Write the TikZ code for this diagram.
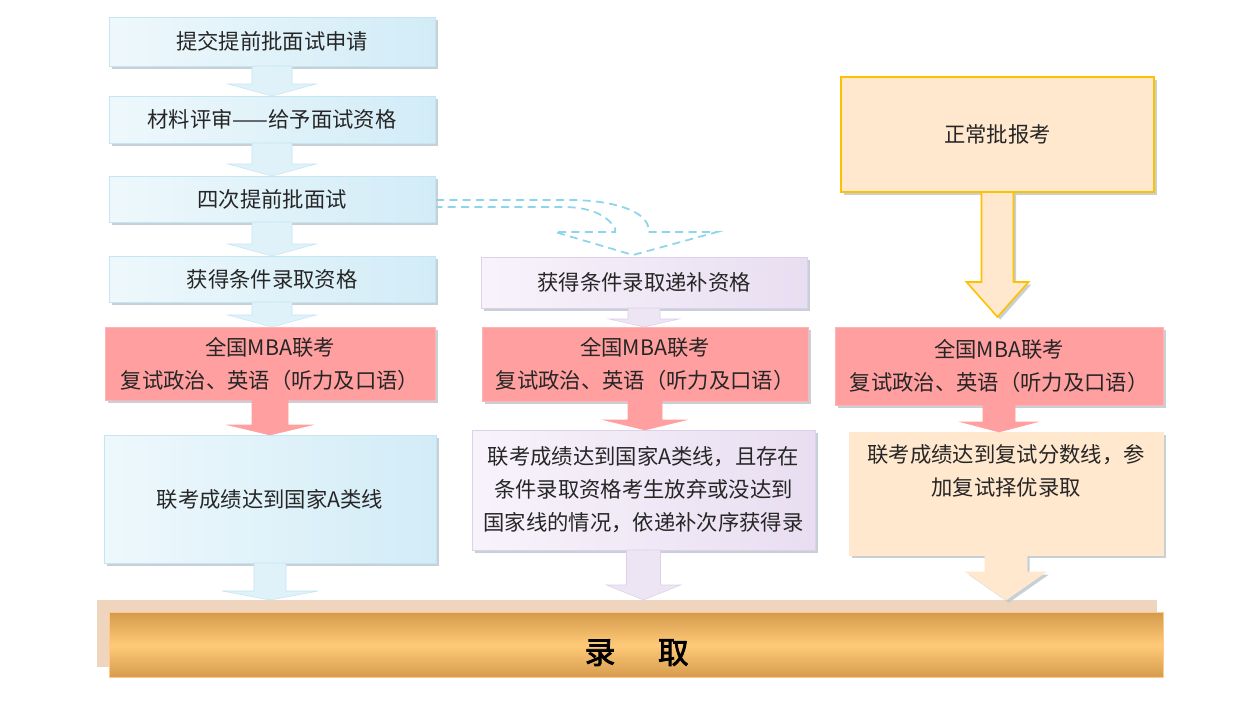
\documentclass[tikz,border=0pt]{standalone}
\usepackage{fontspec}
\newfontfamily\cjk[AutoFakeBold=2.5]{Noto Sans CJK SC}
\usepackage{tikz}
\usetikzlibrary{calc,shadows}

\definecolor{txtgray}{HTML}{262626}
\definecolor{bluel}{HTML}{EEF8FC}
\definecolor{bluer}{HTML}{D2ECF7}
\definecolor{blueline}{HTML}{C5E5F3}
\definecolor{lavl}{HTML}{F8F3FB}
\definecolor{lavr}{HTML}{E8DEF1}
\definecolor{lavline}{HTML}{DCD0EA}
\definecolor{pinkred}{HTML}{FF9F9F}
\definecolor{pinkline}{HTML}{FFB4B4}
\definecolor{peach}{HTML}{FFE8CE}
\definecolor{gold}{HTML}{FFC000}
\definecolor{barmid}{HTML}{FFCA78}
\definecolor{baredge}{HTML}{D49B4C}
\definecolor{barline}{HTML}{FFC98C}
\definecolor{barback}{HTML}{EFD5BE}
\definecolor{dashblue}{HTML}{8DD5EA}
\definecolor{shade}{HTML}{B9C5CD}

\tikzset{
  sz/.style 2 args={minimum width=#1*0.75pt, minimum height=#2*0.75pt},
  boxbase/.style={anchor=north west, inner sep=0pt, outer sep=0pt, align=center,
    drop shadow={shadow xshift=2.25pt, shadow yshift=-2.25pt, fill=shade, opacity=0.8}},
  bluebox/.style={boxbase, left color=bluel, right color=bluer, draw=blueline},
  lavbox/.style={boxbase, left color=lavl, right color=lavr, draw=lavline},
  redbox/.style={boxbase, fill=pinkred, draw=pinkline},
  peachbox/.style={boxbase, fill=peach, draw=peach},
  goldbox/.style={boxbase, fill=peach, draw=gold, line width=1.2pt},
  bluearrow/.style={fill=bluer!70!white, draw=blueline},
  redarrow/.style={fill=pinkred, draw=pinkred},
  lavarrow/.style={fill=lavr!80!white, draw=lavline},
  peacharrow/.style={fill=peach, draw=peach, drop shadow={shadow xshift=2pt, shadow yshift=-2pt, fill=shade, opacity=0.8}},
  dashflow/.style={draw=dashblue, line width=1.3pt, dash pattern=on 6pt off 4pt}
}

% block arrow from the bottom of #2 down to the top of #3
\newcommand{\blockarrow}[6][]{%
  \draw[#1] ($(#2.south)+(-#4,0)$) -- ($(#2.south)+(#4,0)$)
    -- ($(#2.south|-#3.north)+(#4,-#6)$) -- ($(#2.south|-#3.north)+(#5,-#6)$)
    -- (#2.south|-#3.north)
    -- ($(#2.south|-#3.north)+(-#5,-#6)$) -- ($(#2.south|-#3.north)+(-#4,-#6)$) -- cycle;}

\begin{document}
\begin{tikzpicture}[x=0.75pt,y=0.75pt,yscale=-1,xscale=1,
  every node/.style={font=\cjk\fontsize{16pt}{24.75pt}\selectfont, text=txtgray}]
\useasboundingbox[fill=white] (0,0) rectangle (1254,708);

%Shape: Rectangle (bar behind)
\node (back) at (97,600) [anchor=north west, inner sep=0pt, sz={1060}{67}, fill=barback] {};
%Shape: Rectangle (bar)
\node (bar) at (109,612) [anchor=north west, inner sep=0pt, sz={1054}{65}, top color=baredge, bottom color=baredge, middle color=barmid, draw=barline, line width=1pt, font=\cjk\fontsize{23pt}{26pt}\selectfont\bfseries, text=black] {\raisebox{-5pt}[0.88em][0.12em]{录\hspace{32pt}取}};

%Dashed curved arrow
\draw[dashflow] (436,200) -- (573,200) .. controls (618,201) and (644,212) .. (648,226) -- (648,232) -- (717,232) -- (633,255) -- (555,232) -- (615,232) -- (615,228) .. controls (606,214) and (588,207) .. (563,207) -- (436,207);

%Left column
\node (b1) at (109,17) [bluebox, sz={326}{49}] {提交提前批面试申请};
\node (b2) at (109,96) [bluebox, sz={326}{47}] {材料评审——给予面试资格};
\node (b3) at (109,176) [bluebox, sz={326}{46}] {四次提前批面试};
\node (b4) at (109,256) [bluebox, sz={326}{46}] {获得条件录取资格};
\node (r1) at (105,327) [redbox, sz={330}{73}] {全国MBA联考\\复试政治、英语（听力及口语）};
\node (b6) at (104,435) [bluebox, sz={332}{128}] {联考成绩达到国家A类线};

%Middle column
\node (m1) at (481,257) [lavbox, sz={326}{51}] {获得条件录取递补资格};
\node (r2) at (482,327) [redbox, sz={326}{74}] {全国MBA联考\\复试政治、英语（听力及口语）};
\node (m2) at (472,430) [lavbox, sz={343}{120}] {联考成绩达到国家A类线，且存在\\条件录取资格考生放弃或没达到\\国家线的情况，依递补次序获得录};

%Right column
\node (p0) at (841,77) [goldbox, sz={313}{115}] {正常批报考};
\node (r3) at (835,327) [redbox, sz={328}{78}] {全国MBA联考\\复试政治、英语（听力及口语）};
\node (p1) at (849,432) [peachbox, sz={314}{123}] {联考成绩达到复试分数线，参\\加复试择优录取\\[10pt]~};
\coordinate (r3top) at ($(r3.north)+(0,-10)$);

%Arrows
\blockarrow[bluearrow]{b1}{b2}{20}{44}{12}
\blockarrow[bluearrow]{b2}{b3}{20}{44}{12}
\blockarrow[bluearrow]{b3}{b4}{20}{44}{12}
\blockarrow[bluearrow]{b4}{r1}{20}{44}{12}
\blockarrow[redarrow]{r1}{b6}{18}{42}{10}
\blockarrow[bluearrow]{b6}{back}{16}{48}{9}
\blockarrow[lavarrow]{m1}{r2}{16}{35}{8}
\blockarrow[redarrow]{r2}{m2}{17}{41}{10}
\blockarrow[lavarrow]{m2}{back}{17}{37}{15}
\blockarrow[peacharrow, draw=gold, line width=1.2pt]{p0}{r3top}{16}{31}{35}
\blockarrow[redarrow]{r3}{p1}{16}{38}{10}
\blockarrow[peacharrow]{p1}{back}{21}{40}{28}
\end{tikzpicture}
\end{document}
